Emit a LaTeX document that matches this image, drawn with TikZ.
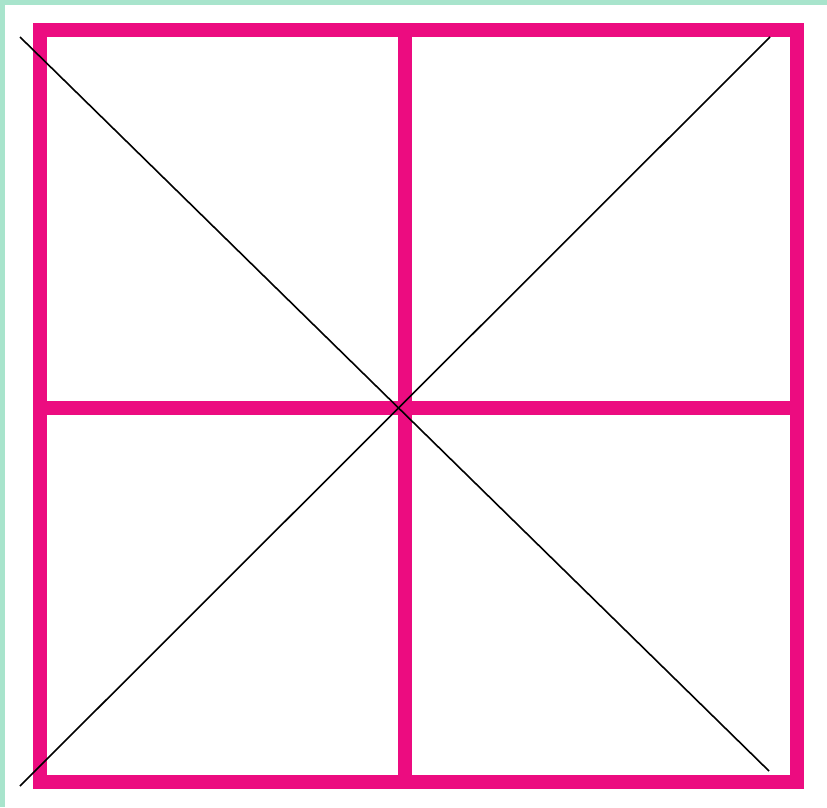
\documentclass[tikz,border=0pt]{standalone}
\definecolor{bgreen}{RGB}{168,228,204}
\definecolor{gridpink}{RGB}{236,12,128}
\begin{document}
\begin{tikzpicture}[x=1pt,y=-1pt,
  gridline/.style={draw=gridpink,line width=14pt},
  diag/.style={draw=black,line width=1.6pt}]
\useasboundingbox (0,0) rectangle (827,807);
\fill[bgreen] (0,0) rectangle (827,807);
\fill[white] (5,5) rectangle (827,807);
\coordinate (tl) at (40,30);
\coordinate (br) at (797,782);
\coordinate (vt) at (405,30);
\coordinate (vb) at (405,784);
\coordinate (hl) at (40,408);
\coordinate (hr) at (797,408);
\draw[gridline] (tl) rectangle (br);
\draw[gridline] (vt) -- (vb);
\draw[gridline] (hl) -- (hr);
\coordinate (d1a) at (20,37);
\coordinate (d1b) at (769,771);
\coordinate (d2a) at (20,786);
\coordinate (d2b) at (770,37);
\draw[diag] (d1a) -- (d1b);
\draw[diag] (d2a) -- (d2b);
\end{tikzpicture}
\end{document}
